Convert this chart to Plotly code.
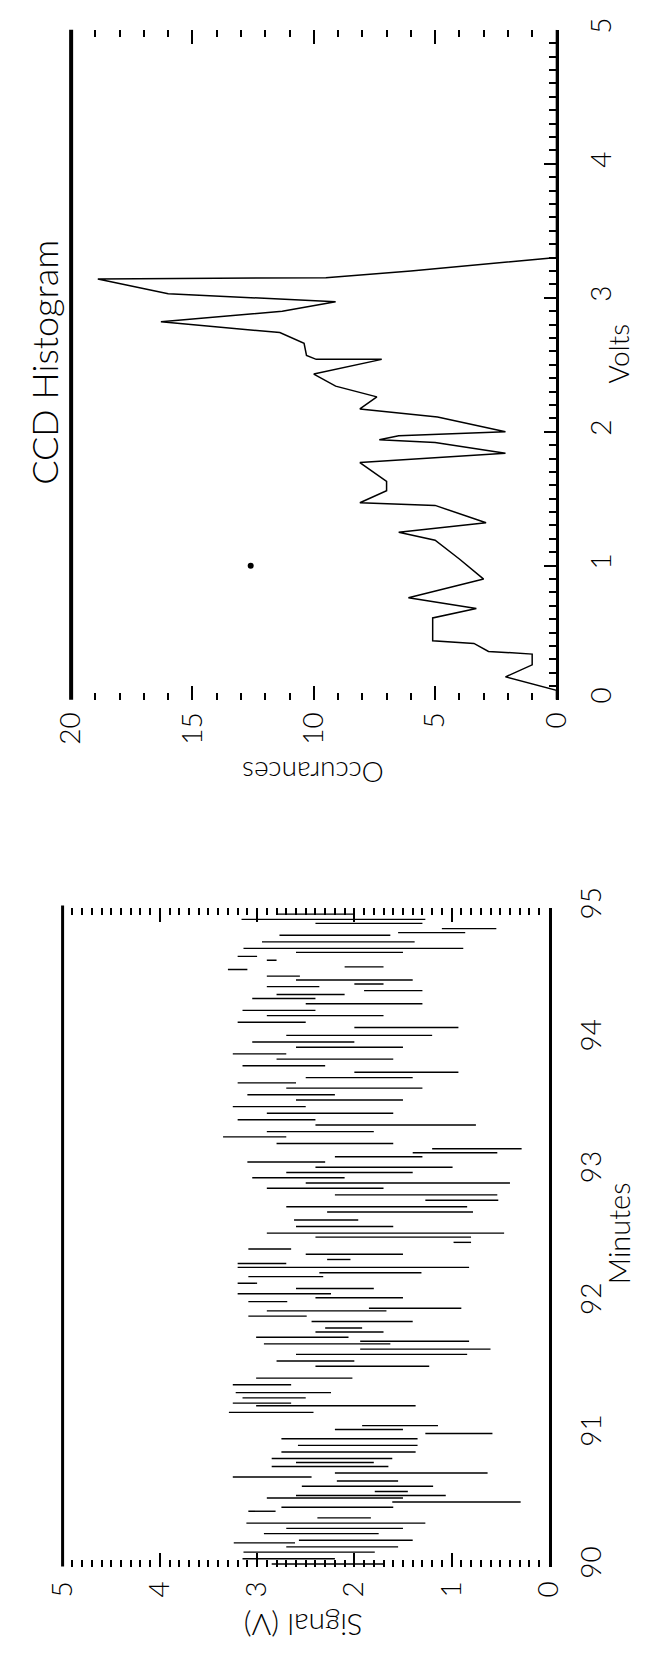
import plotly.graph_objects as go

W, H = 652, 1661

# ---------------- data: CCD histogram (volts vs occurrences) ----------------
hist_volts = [0.00, 0.07, 0.17, 0.26, 0.34, 0.36, 0.42, 0.44, 0.61, 0.68, 0.76, 0.90,
              1.05, 1.19, 1.25, 1.32, 1.45, 1.47, 1.56, 1.63, 1.77, 1.84, 1.92, 1.94,
              1.97, 2.00, 2.11, 2.17, 2.26, 2.34, 2.43, 2.54, 2.54, 2.57, 2.66, 2.74,
              2.82, 2.90, 2.97, 3.03, 3.14, 3.15, 3.20, 3.25, 3.30, 4.00, 5.00]
hist_counts = [0.0, 0.0, 2.1, 1.0, 1.0, 2.8, 3.4, 5.1, 5.1, 3.3, 6.1, 3.0,
               4.0, 5.0, 6.5, 2.9, 5.0, 8.1, 7.0, 7.0, 8.1, 2.1, 5.0, 7.3,
               6.5, 2.1, 4.9, 8.1, 7.4, 9.1, 10.0, 7.2, 9.9, 10.3, 10.4, 11.4,
               16.3, 11.3, 9.1, 16.0, 18.9, 9.5, 6.0, 3.0, 0.0, 0.0, 0.0]
dot_volts = [1.0]
dot_counts = [12.6]

# ---------------- data: signal vs minutes (each entry = one excursion) ----------------
ts_minutes = [90.02, 90.06, 90.11, 90.15, 90.18, 90.20, 90.25, 90.29, 90.33, 90.37,
              90.42, 90.45, 90.49, 90.52, 90.54, 90.57, 90.61, 90.65, 90.68, 90.71,
              90.76, 90.79, 90.82, 90.87, 90.92, 90.97, 91.01, 91.04, 91.07, 91.17,
              91.22, 91.24, 91.28, 91.32, 91.38, 91.43, 91.52, 91.56, 91.61, 91.65,
              91.69, 91.71, 91.74, 91.78, 91.81, 91.86, 91.90, 91.94, 91.96, 92.01,
              92.04, 92.07, 92.11, 92.15, 92.20, 92.23, 92.27, 92.30, 92.33, 92.37,
              92.41, 92.46, 92.50, 92.53, 92.58, 92.63, 92.69, 92.73, 92.78, 92.82,
              92.87, 92.91, 92.95, 92.99, 93.03, 93.07, 93.11, 93.14, 93.17, 93.21,
              93.26, 93.30, 93.35, 93.39, 93.44, 93.49, 93.54, 93.58, 93.63, 93.67,
              93.71, 93.75, 93.80, 93.85, 93.89, 93.94, 93.98, 94.03, 94.09, 94.13,
              94.18, 94.22, 94.27, 94.31, 94.34, 94.37, 94.40, 94.42, 94.45, 94.48,
              94.53, 94.55, 94.60, 94.63, 94.66, 94.69, 94.74, 94.79, 94.81, 94.84,
              94.88, 94.91, 94.95]
ts_high = [2.85, 3.15, 3.14, 2.70, 3.24, 2.57, 2.93, 2.70, 3.11, 2.38,
           3.09, 2.75, 1.61, 2.90, 2.60, 1.79, 2.54, 2.18, 3.25, 2.20,
           2.85, 2.60, 2.85, 2.75, 2.58, 2.75, 1.27, 2.20, 1.92, 3.29,
           3.01, 3.25, 3.15, 3.22, 3.25, 3.01, 2.40, 2.80, 2.60, 1.94,
           2.93, 1.94, 3.01, 2.40, 2.30, 2.44, 3.09, 2.90, 1.85, 3.09,
           2.40, 3.20, 2.60, 3.20, 3.09, 2.36, 3.20, 3.20, 2.28, 2.50,
           3.09, 0.98, 2.40, 2.90, 2.60, 2.62, 2.28, 2.70, 1.27, 2.20,
           2.90, 2.50, 3.05, 2.70, 2.40, 3.10, 2.20, 1.40, 1.20, 2.80,
           3.35, 2.90, 2.40, 3.20, 2.90, 3.25, 2.60, 3.10, 2.70, 3.20,
           2.50, 2.00, 3.15, 2.80, 3.25, 2.60, 3.05, 2.70, 2.00, 3.20,
           2.90, 3.15, 2.50, 3.05, 2.80, 1.90, 2.90, 2.00, 2.60, 2.90,
           3.30, 2.10, 2.90, 3.20, 2.60, 3.14, 2.95, 2.77, 1.55, 1.10,
           2.40, 3.16, 2.80]
ts_low = [1.70, 2.20, 1.79, 1.55, 2.61, 1.40, 1.75, 1.50, 1.27, 1.83,
          2.81, 1.60, 0.29, 1.50, 1.06, 1.45, 1.19, 1.55, 2.44, 0.63,
          1.65, 1.80, 1.61, 1.37, 1.35, 1.35, 0.58, 1.50, 1.14, 2.42,
          1.37, 2.65, 2.50, 2.24, 2.65, 2.02, 1.23, 2.00, 0.84, 0.60,
          1.63, 0.82, 2.06, 1.70, 1.92, 1.40, 2.49, 1.67, 0.90, 2.69,
          1.50, 2.24, 1.80, 3.00, 2.32, 1.31, 0.82, 2.70, 2.04, 1.50,
          2.65, 0.80, 0.80, 0.46, 1.60, 1.96, 0.78, 0.84, 0.52, 0.53,
          1.70, 0.40, 2.10, 1.40, 0.99, 2.30, 1.30, 0.53, 0.28, 1.60,
          2.70, 1.80, 0.75, 2.40, 1.60, 2.50, 1.50, 2.20, 1.30, 2.60,
          1.40, 0.93, 2.30, 1.60, 2.70, 1.50, 2.00, 1.20, 0.93, 2.50,
          1.70, 2.40, 1.30, 2.40, 2.10, 1.30, 2.36, 1.70, 1.40, 2.56,
          3.10, 1.70, 2.80, 3.00, 1.50, 0.88, 1.38, 1.63, 0.86, 0.54,
          1.30, 1.27, 2.00]

# each excursion drawn as its own short stroke (the scan shows separate streaks)
path_min, path_sig = [], []
for t, hi, lo in zip(ts_minutes, ts_high, ts_low):
    path_min += [t, t, None]
    path_sig += [hi, lo, None]


def px(x):
    return x / W


def py(y):
    return 1 - y / H


FONT = "Lato, 'Liberation Sans', Arial, sans-serif"
tickfont = dict(family=FONT, size=28, color="black", weight=300)

fig = go.Figure()
fig.add_trace(go.Scatter(x=hist_counts, y=hist_volts, mode="lines",
                         line=dict(color="black", width=1.5),
                         xaxis="x", yaxis="y", hoverinfo="skip"))
fig.add_trace(go.Scatter(x=dot_counts, y=dot_volts, mode="markers",
                         marker=dict(color="black", size=6),
                         xaxis="x", yaxis="y", hoverinfo="skip"))
fig.add_trace(go.Scatter(x=path_sig, y=path_min, mode="lines", connectgaps=False,
                         line=dict(color="black", width=1.4),
                         xaxis="x2", yaxis="y2", hoverinfo="skip"))

common = dict(showgrid=False, zeroline=False, tickcolor="black", tickwidth=2,
              tickfont=tickfont, tickangle=-90, linecolor="black")

fig.update_layout(
    width=W, height=H, margin=dict(l=0, r=0, t=0, b=0),
    paper_bgcolor="white", plot_bgcolor="white", showlegend=False,
    font=dict(family=FONT, size=28, color="black"),
    xaxis=dict(domain=[px(55), px(567)], anchor="y", range=[20, 0],
               tickvals=[0, 5, 10, 15, 20], ticks="inside", ticklen=14,
               minor=dict(dtick=1, ticks="inside", ticklen=7, tickwidth=2, tickcolor="black"),
               mirror="ticks", showline=False, ticklabelstandoff=6, **common),
    yaxis=dict(domain=[py(693), py(10)], anchor="x", side="right", range=[0, 5],
               dtick=1, ticks="inside", ticklen=12,
               minor=dict(dtick=0.1, ticks="inside", ticklen=7, tickwidth=2, tickcolor="black"),
               showline=True, linewidth=3, mirror=False, ticklabelstandoff=18, **common),
    xaxis2=dict(domain=[px(46), px(559)], anchor="y2", range=[5, 0],
                dtick=1, ticks="inside", ticklen=14,
                minor=dict(dtick=0.1, ticks="inside", ticklen=7, tickwidth=2, tickcolor="black"),
                mirror="ticks", showline=False, ticklabelstandoff=8, **common),
    yaxis2=dict(domain=[py(1577), py(905)], anchor="x2", side="right", range=[90, 95],
                dtick=1, ticks="", showline=True, linewidth=2.5, mirror=False,
                ticklabelstandoff=16, **common),
)

# left frame edges of both panels
fig.add_shape(type="line", xref="paper", yref="paper", x0=px(55), x1=px(55),
              y0=py(10), y1=py(693), line=dict(color="black", width=4))
fig.add_shape(type="line", xref="paper", yref="paper", x0=px(46), x1=px(46),
              y0=py(903), y1=py(1577), line=dict(color="black", width=3))

labels = [
    ("CCD Histogram", 27, 349, -90, 36),
    ("Volts", 632, 340, -90, 28),
    ("Occurances", 310, 768, 180, 28),
    ("Minutes", 632, 1237, -90, 29),
    ("Signal (V)", 300, 1637, 180, 30),
]
for txt, x, y, ang, sz in labels:
    fig.add_annotation(text=txt, x=px(x), y=py(y), xref="paper", yref="paper",
                       showarrow=False, textangle=ang, xanchor="center", yanchor="middle",
                       font=dict(family=FONT, size=sz, color="black", weight=300))

fig.write_html("out.html")
